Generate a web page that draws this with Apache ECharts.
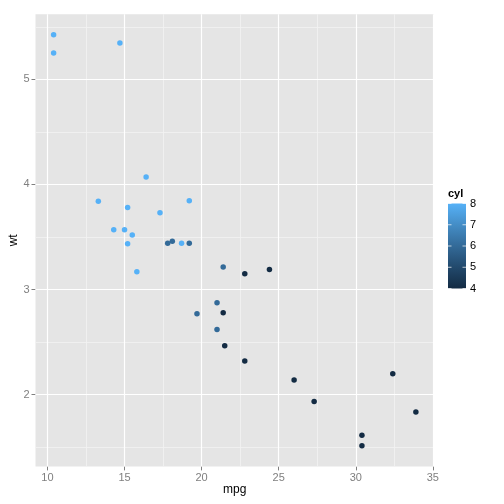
<!DOCTYPE html>
<html><head><meta charset="utf-8">
<script src="https://cdn.jsdelivr.net/npm/echarts@6/dist/echarts.min.js"></script>
<style>html,body{margin:0;padding:0;background:#fff}#c{width:504px;height:504px}</style>
</head><body><div id="c"></div>
<script>
const mpg = [21.0,21.0,22.8,21.4,18.7,18.1,14.3,24.4,22.8,19.2,17.8,16.4,17.3,15.2,10.4,10.4,14.7,32.4,30.4,33.9,21.5,15.5,15.2,13.3,19.2,27.3,26.0,30.4,15.8,19.7,15.0,21.4];
const wt = [2.620,2.875,2.320,3.215,3.440,3.460,3.570,3.190,3.150,3.440,3.440,4.070,3.730,3.780,5.250,5.424,5.345,2.200,1.615,1.835,2.465,3.520,3.435,3.840,3.845,1.935,2.140,1.513,3.170,2.770,3.570,2.780];
const cyl = [6,6,4,6,8,6,8,4,4,6,6,8,8,8,8,8,8,4,4,4,4,8,8,8,8,4,4,4,8,6,8,4];
const xTicks = [10,15,20,25,30,35];
const xMinor = [12.5,17.5,22.5,27.5,32.5];
const yTicks = [2,3,4,5];
const yMinor = [1.5,2.5,3.5,4.5,5.5];
const cylTicks = [4,5,6,7,8];
const gradColors = ['#132B43','#22496C','#336A98','#448DC6','#56B1F7'];

const xMin = 9.225, xMax = 35.075, yMin = 1.3175, yMax = 5.6196;
const chart = echarts.init(document.getElementById('c'), null, {renderer:'canvas'});
const data = mpg.map((m,i)=>[m, wt[i], cyl[i]]);
const gl = (vals, key, color, w) => vals.map(v => ({[key]: v, lineStyle:{color, width:w, type:'solid'}}));
const barTop = 203.5, barH = 85, barX = 448, barW = 18;
const legendGraphics = [
  {type:'text', left:barX, top:188, style:{text:'cyl', font:'bold 11px "Liberation Sans", Arial, sans-serif', fill:'#000'}},
  {type:'rect', shape:{x:barX, y:barTop, width:barW, height:barH},
   style:{fill: new echarts.graphic.LinearGradient(0,1,0,0, gradColors.map((c,i)=>({offset:i/(gradColors.length-1), color:c})))}}
];
cylTicks.forEach(t=>{
  const y = barTop + barH*(8-t)/4;
  legendGraphics.push({type:'line', shape:{x1:barX, y1:y, x2:barX+3.5, y2:y}, style:{stroke:'#ffffff', lineWidth:1, opacity:0.7}});
  legendGraphics.push({type:'line', shape:{x1:barX+barW-3.5, y1:y, x2:barX+barW, y2:y}, style:{stroke:'#ffffff', lineWidth:1, opacity:0.7}});
  legendGraphics.push({type:'text', x:barX+barW+4, y:y, style:{text:String(t), font:'11px "Liberation Sans", Arial, sans-serif', fill:'#000', verticalAlign:'middle'}});
});
chart.setOption({
  animation:false,
  backgroundColor:'#ffffff',
  grid:{left:35.5, right:70, top:14.2, bottom:37.6, show:true, backgroundColor:'#E5E5E5', borderWidth:0,
        containLabel:false, outerBoundsMode:'none'},
  xAxis:{type:'value', min:xMin, max:xMax, name:'mpg', nameLocation:'middle', nameGap:17, nameMoveOverlap:false,
    nameTextStyle:{color:'#000', fontSize:12, fontFamily:'Liberation Sans'},
    axisLine:{show:false}, splitLine:{show:false},
    axisTick:{show:true, length:4, lineStyle:{color:'#7F7F7F'}, customValues:xTicks},
    axisLabel:{color:'#7F7F7F', fontSize:11, fontFamily:'Liberation Sans', margin:6, customValues:xTicks}},
  yAxis:{type:'value', min:yMin, max:yMax, name:'wt', nameLocation:'middle', nameGap:16, nameRotate:90, nameMoveOverlap:false,
    nameTextStyle:{color:'#000', fontSize:12, fontFamily:'Liberation Sans'},
    axisLine:{show:false}, splitLine:{show:false},
    axisTick:{show:true, length:4, lineStyle:{color:'#7F7F7F'}, customValues:yTicks},
    axisLabel:{color:'#7F7F7F', fontSize:11, fontFamily:'Liberation Sans', margin:6, customValues:yTicks}},
  visualMap:{show:false, type:'continuous', dimension:2, min:4, max:8, inRange:{color:gradColors}},
  graphic: legendGraphics,
  series:[{
    type:'scatter', data:data, symbolSize:5.5, itemStyle:{opacity:1},
    markLine:{silent:true, symbol:'none', label:{show:false}, animation:false,
      data:[].concat(gl(xMinor,'xAxis','#F2F2F2',0.8), gl(yMinor,'yAxis','#F2F2F2',0.8),
                     gl(xTicks,'xAxis','#FFFFFF',1.2), gl(yTicks,'yAxis','#FFFFFF',1.2))},
    z:5
  }]
});
</script></body></html>
